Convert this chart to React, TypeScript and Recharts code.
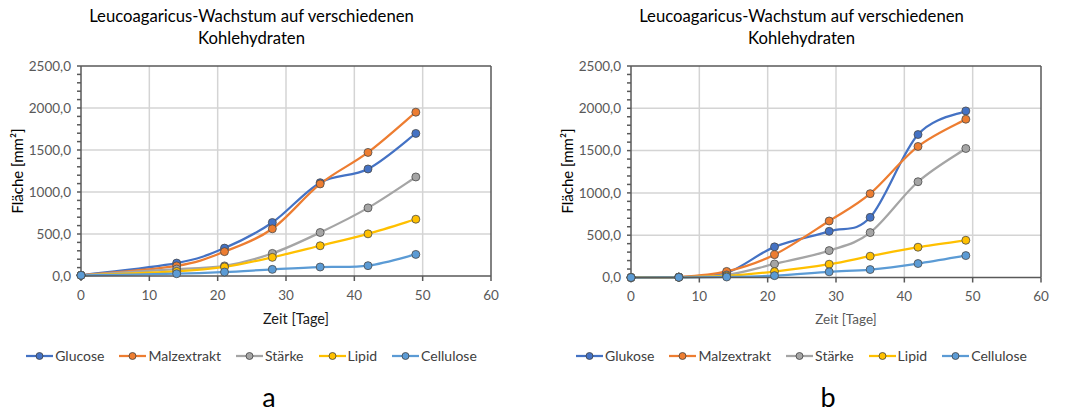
import React from "react";
import {
  CartesianGrid,
  Line,
  LineChart,
  ReferenceLine,
  XAxis,
  YAxis,
} from "recharts";

// days of measurement
const daysA = [0, 14, 21, 28, 35, 42, 49];
const daysB = [0, 7, 14, 21, 29, 35, 42, 49];

// chart a – area in mm²
const glucoseA = [10, 154, 332, 637, 1111, 1274, 1697];
const malzA = [8, 120, 290, 562, 1096, 1471, 1950];
const staerkeA = [8, 83, 120, 269, 518, 811, 1179];
const lipidA = [8, 55, 108, 222, 360, 502, 676];
const celluloseA = [8, 27, 47, 79, 107, 123, 257];

// chart b – area in mm²
const glukoseB = [0, 5, 55, 362, 546, 711, 1690, 1969];
const malzB = [0, 5, 72, 270, 668, 991, 1549, 1871];
const staerkeB = [0, 4, 30, 160, 318, 531, 1132, 1525];
const lipidB = [0, 3, 18, 70, 157, 252, 358, 440];
const celluloseB = [0, 2, 6, 22, 67, 94, 165, 259];

const namesA = ["Glucose", "Malzextrakt", "Stärke", "Lipid", "Cellulose"];
const namesB = ["Glukose", "Malzextrakt", "Stärke", "Lipid", "Cellulose"];

const xTicks = [0, 10, 20, 30, 40, 50, 60];
const yTicks = Array.from({ length: 26 }, (_, i) => i * 100);

const colors = ["#4472C4", "#ED7D31", "#A5A5A5", "#FFC000", "#5B9BD5"];
const FONT = "Lato, 'Open Sans', sans-serif";

// Excel-style smoothing (Catmull-Rom as cubic bezier)
const excelCurve = (context: any) => {
  let pts: number[][] = [];
  return {
    areaStart() {},
    areaEnd() {},
    lineStart() {
      pts = [];
    },
    point(x: number, y: number) {
      pts.push([+x, +y]);
    },
    lineEnd() {
      const n = pts.length;
      if (!n) return;
      context.moveTo(pts[0][0], pts[0][1]);
      for (let i = 0; i < n - 1; i++) {
        const p0 = pts[Math.max(0, i - 1)];
        const p1 = pts[i];
        const p2 = pts[i + 1];
        const p3 = pts[Math.min(n - 1, i + 2)];
        context.bezierCurveTo(
          p1[0] + (p2[0] - p0[0]) / 6,
          p1[1] + (p2[1] - p0[1]) / 6,
          p2[0] - (p3[0] - p1[0]) / 6,
          p2[1] - (p3[1] - p1[1]) / 6,
          p2[0],
          p2[1]
        );
      }
    },
  };
};

const buildRows = (days: number[], series: number[][]) =>
  days.map((d, i) => {
    const row: any = { day: d };
    series.forEach((s, j) => (row["s" + j] = s[i]));
    return row;
  });

const fmt = (v: number) => v.toFixed(1).replace(".", ",");

function YTick(props: any) {
  const { x, y, payload } = props;
  if (payload.value % 500 !== 0) return null;
  return (
    <text
      x={x}
      y={y}
      dy="0.35em"
      textAnchor="end"
      fill="#595959"
      fontSize={13.5}
      fontFamily={FONT}
    >
      {fmt(payload.value)}
    </text>
  );
}

function Legend({ names }: { names: string[] }) {
  return (
    <div
      style={{
        display: "flex",
        justifyContent: "center",
        gap: 15,
        fontSize: 14,
        color: "#404040",
        fontFamily: FONT,
      }}
    >
      {names.map((n, i) => (
        <div key={n} style={{ display: "flex", alignItems: "center" }}>
          <svg width={27} height={10} style={{ marginRight: 2 }}>
            <line x1={0} y1={5} x2={27} y2={5} stroke={colors[i]} strokeWidth={2.25} />
            <circle cx={13.5} cy={5} r={3.5} fill={colors[i]} stroke="#404040" strokeWidth={0.8} />
          </svg>
          <span>{n}</span>
        </div>
      ))}
    </div>
  );
}

interface PanelProps {
  left: number;
  days: number[];
  series: number[][];
  names: string[];
  letter: string;
  letterX: number;
  bottom: number;
  xLabelColor: string;
  xLabelSize: number;
  yLabelX: number;
}

function Panel(p: PanelProps) {
  const data = buildRows(p.days, p.series);
  return (
    <div style={{ position: "absolute", left: p.left, top: 0, width: 535, height: 414 }}>
      <div
        style={{
          position: "absolute",
          left: 0,
          top: 5,
          width: 503,
          textAlign: "center",
          fontSize: 16.7,
          lineHeight: "22px",
          color: "#000",
          fontFamily: FONT,
        }}
      >
        Leucoagaricus-Wachstum auf verschiedenen
        <br />
        Kohlehydraten
      </div>
      <div style={{ position: "absolute", left: 0, top: 0 }}>
        <LineChart
          width={535}
          height={320}
          data={data}
          margin={{ top: 66, left: 21, right: 44, bottom: p.bottom }}
        >
          <CartesianGrid
            stroke="#d4d4d4"
            strokeWidth={1.5}
            horizontalValues={[500, 1000, 1500, 2000]}
            verticalValues={[10, 20, 30, 40, 50]}
          />
          <ReferenceLine y={2500} stroke="#595959" strokeWidth={1.5} />
          <ReferenceLine x={60} stroke="#595959" strokeWidth={1.5} />
          <XAxis
            dataKey="day"
            type="number"
            domain={[0, 60]}
            ticks={xTicks}
            height={20}
            stroke="#595959"
            strokeWidth={1.5}
            tickSize={5}
            tickMargin={9}
            tick={{ fill: "#595959", fontSize: 13.5, fontFamily: FONT }}
          />
          <YAxis
            type="number"
            domain={[0, 2500]}
            ticks={yTicks}
            interval={0}
            width={60}
            stroke="#595959"
            strokeWidth={1.5}
            tickSize={4}
            tickMargin={6}
            tick={<YTick />}
          />
          {p.series.map((_, j) => (
            <Line
              key={j}
              dataKey={"s" + j}
              type={excelCurve as any}
              stroke={colors[j]}
              strokeWidth={2.25}
              dot={{ r: 4, fill: colors[j], stroke: "#4a4a4a", strokeWidth: 0.8 }}
              isAnimationActive={false}
            />
          ))}
        </LineChart>
      </div>
      <div
        style={{
          position: "absolute",
          left: p.yLabelX - 60,
          top: 171 - 10,
          width: 120,
          height: 20,
          lineHeight: "20px",
          textAlign: "center",
          transform: "rotate(-90deg)",
          fontSize: 15,
          color: "#000",
          fontFamily: FONT,
        }}
      >
        Fläche [mm²]
      </div>
      <div
        style={{
          position: "absolute",
          left: 196,
          top: 309,
          width: 200,
          textAlign: "center",
          fontSize: p.xLabelSize,
          lineHeight: "20px",
          color: p.xLabelColor,
          fontFamily: FONT,
        }}
      >
        Zeit [Tage]
      </div>
      <div style={{ position: "absolute", left: 0, top: 347, width: 503 }}>
        <Legend names={p.names} />
      </div>
      <div
        style={{
          position: "absolute",
          left: p.letterX - 20,
          top: 382,
          width: 40,
          textAlign: "center",
          fontSize: 27,
          lineHeight: "30px",
          color: "#000",
          fontFamily: FONT,
        }}
      >
        {p.letter}
      </div>
    </div>
  );
}

export default function App() {
  return (
    <div
      style={{
        position: "absolute",
        left: 0,
        top: 0,
        width: 1069,
        height: 414,
        background: "#fff",
        overflow: "hidden",
      }}
    >
      <Panel
        left={0}
        days={daysA}
        series={[glucoseA, malzA, staerkeA, lipidA, celluloseA]}
        names={namesA}
        letter="a"
        letterX={269}
        bottom={24}
        xLabelColor="#1a1a1a"
        xLabelSize={14.5}
        yLabelX={17}
      />
      <Panel
        left={550}
        days={daysB}
        series={[glukoseB, malzB, staerkeB, lipidB, celluloseB]}
        names={namesB}
        letter="b"
        letterX={278}
        bottom={22.5}
        xLabelColor="#595959"
        xLabelSize={13.5}
        yLabelX={17}
      />
    </div>
  );
}
